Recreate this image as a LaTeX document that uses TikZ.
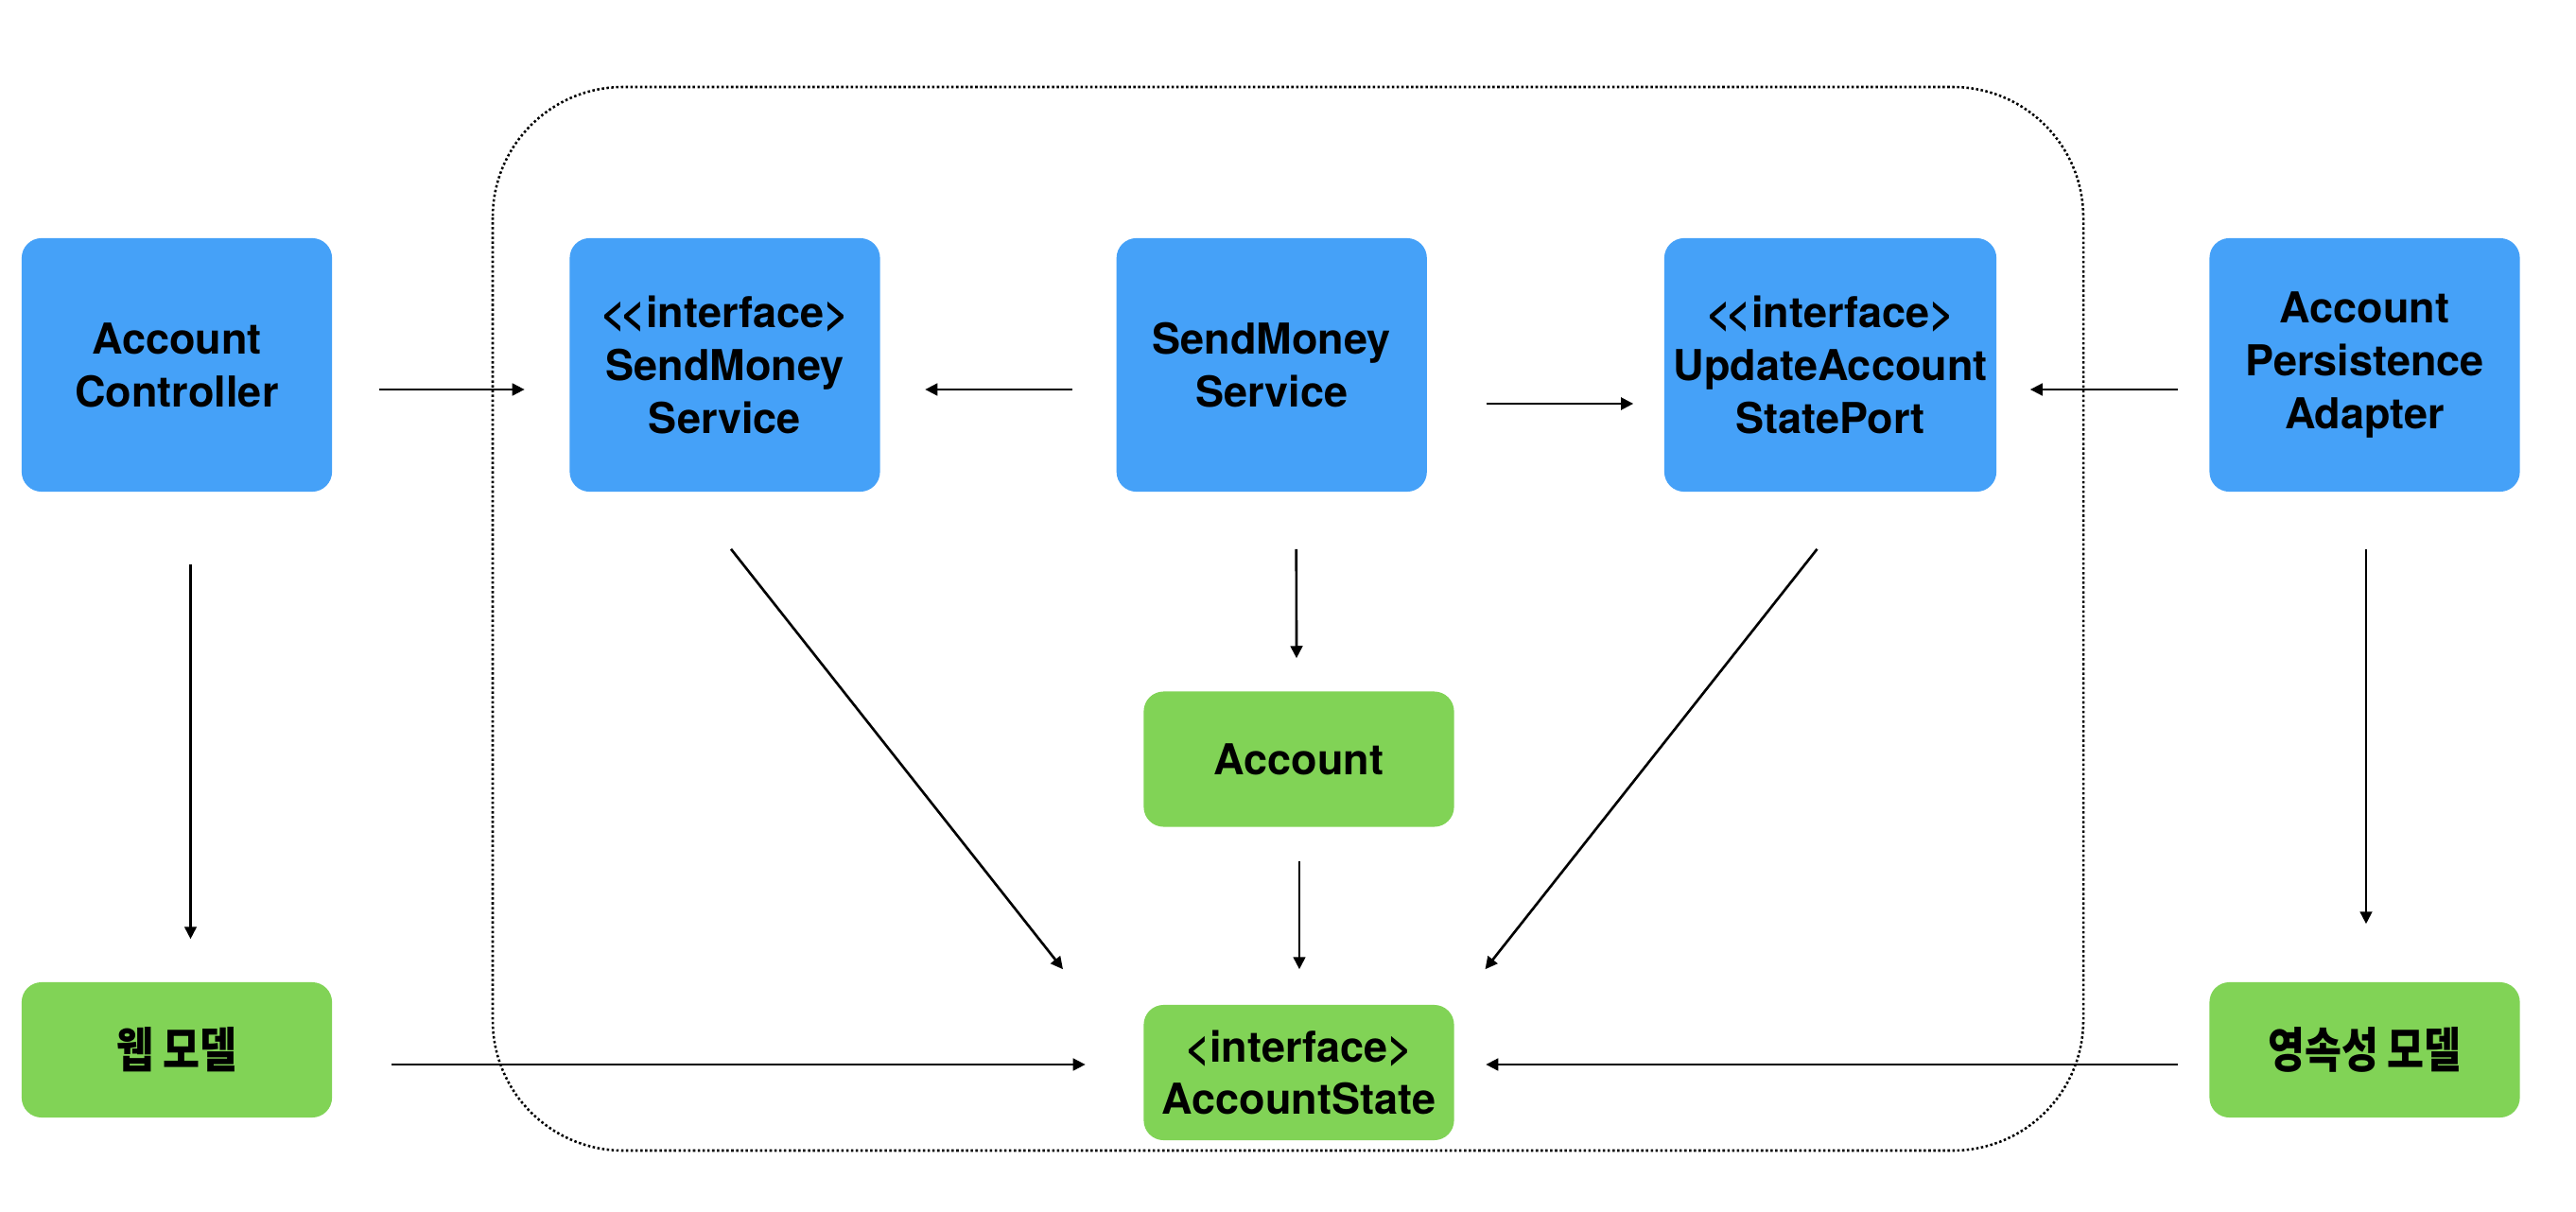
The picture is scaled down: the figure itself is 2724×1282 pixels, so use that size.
\documentclass[tikz,border=0pt]{standalone}
\usepackage{fontspec}
\setmainfont{TeX Gyre Heros}
\newfontfamily\krfont{Noto Sans CJK KR}[FakeStretch=0.83]
\usetikzlibrary{arrows.meta,calc}
\definecolor{boxblue}{RGB}{69,161,248}
\definecolor{boxgreen}{RGB}{129,211,86}
\newcommand{\ltlt}{<\kern-0.1em<}
\tikzset{
  basebox/.style={rounded corners=0.21cm, inner sep=0pt, align=center, text=black,
    font=\fontsize{12.8}{15.9}\selectfont\bfseries},
  bluebox/.style={basebox, fill=boxblue, minimum width=3.28cm, minimum height=2.68cm},
  greenbox/.style={basebox, fill=boxgreen, minimum width=3.28cm, minimum height=1.43cm},
  krtext/.style={font=\krfont\fontsize{14.5}{16}\selectfont\bfseries},
  arr/.style={line width=0.75pt, -{Triangle[length=3.7pt,width=3.6pt]}},
  dotline/.style={line width=0.72pt, dash pattern=on 0.72pt off 0.72pt, rounded corners=1.38cm}
}
\begin{document}
\begin{tikzpicture}[x=0.01cm,y=-0.01cm]
\useasboundingbox (0,0) rectangle (2724,1282);
\fill[white] (0,0) rectangle (2724,1282);

% dotted application core boundary
\draw[dotline] (521,92) rectangle (2203,1217);

% blue boxes
\node[bluebox] (ac) at (187,386) {Account\\Controller};
\node[bluebox] (sms1) at (766.5,386) {\ltlt interface>\\SendMoney\\Service};
\node[bluebox] (sms2) at (1344.75,386) {SendMoney\\Service};
\node[bluebox, minimum width=3.51cm] (uasp) at (1935.5,386) {\ltlt interface>\\UpdateAccount\\StatePort};
\node[bluebox] (apa) at (2500.5,386) {Account\\Persistence\\Adapter};

% green boxes
\node[greenbox] (acct) at (1373.5,803) {Account};
\node[greenbox] (astate) at (1373.5,1134.5) {<interface>\\AccountState};
\node[greenbox, krtext] (web) at (187,1110.5) {웹 모델};
\node[greenbox, krtext] (pers) at (2500.5,1110.5) {영속성 모델};

% horizontal arrows, top row
\draw[arr] ($(ac.east)+(49,26)$) -- ($(sms1.west)+(-47,26)$);
\draw[arr] ($(sms2.west)+(-46,26)$) -- ($(sms1.east)+(47,26)$);
\draw[arr, line width=0.85pt] ($(sms2.east)+(62,41)$) -- ($(uasp.west)+(-32,41)$);
\draw[arr] ($(apa.west)+(-32.5,26)$) -- ($(uasp.east)+(35,26)$);

% vertical arrows
\draw[arr] ($(ac.south)+(14.5,76)$) -- ($(web.north)+(14.5,-45)$);
\draw[arr] ($(apa.south)+(1.5,60)$) -- ($(pers.north)+(1.5,-61)$);
\draw[arr] ($(sms2.south)+(26,60)$) -- ($(acct.north)+(-2.5,-34.5)$);
\draw[arr] ($(acct.south)+(0.5,35.5)$) -- ($(astate.north)+(0.5,-37)$);

% diagonal arrows
\draw[arr] ($(sms1.south)+(6.5,60)$) -- ($(astate.north)+(-249.5,-37)$);
\draw[arr] ($(uasp.south)+(-14,60)$) -- ($(astate.north)+(197,-37)$);

% bottom row arrows
\draw[arr] ($(web.east)+(62.5,15.5)$) -- ($(astate.west)+(-61,-8.5)$);
\draw[arr] ($(pers.west)+(-32.5,15.5)$) -- ($(astate.east)+(33,-8.5)$);
\end{tikzpicture}
\end{document}
